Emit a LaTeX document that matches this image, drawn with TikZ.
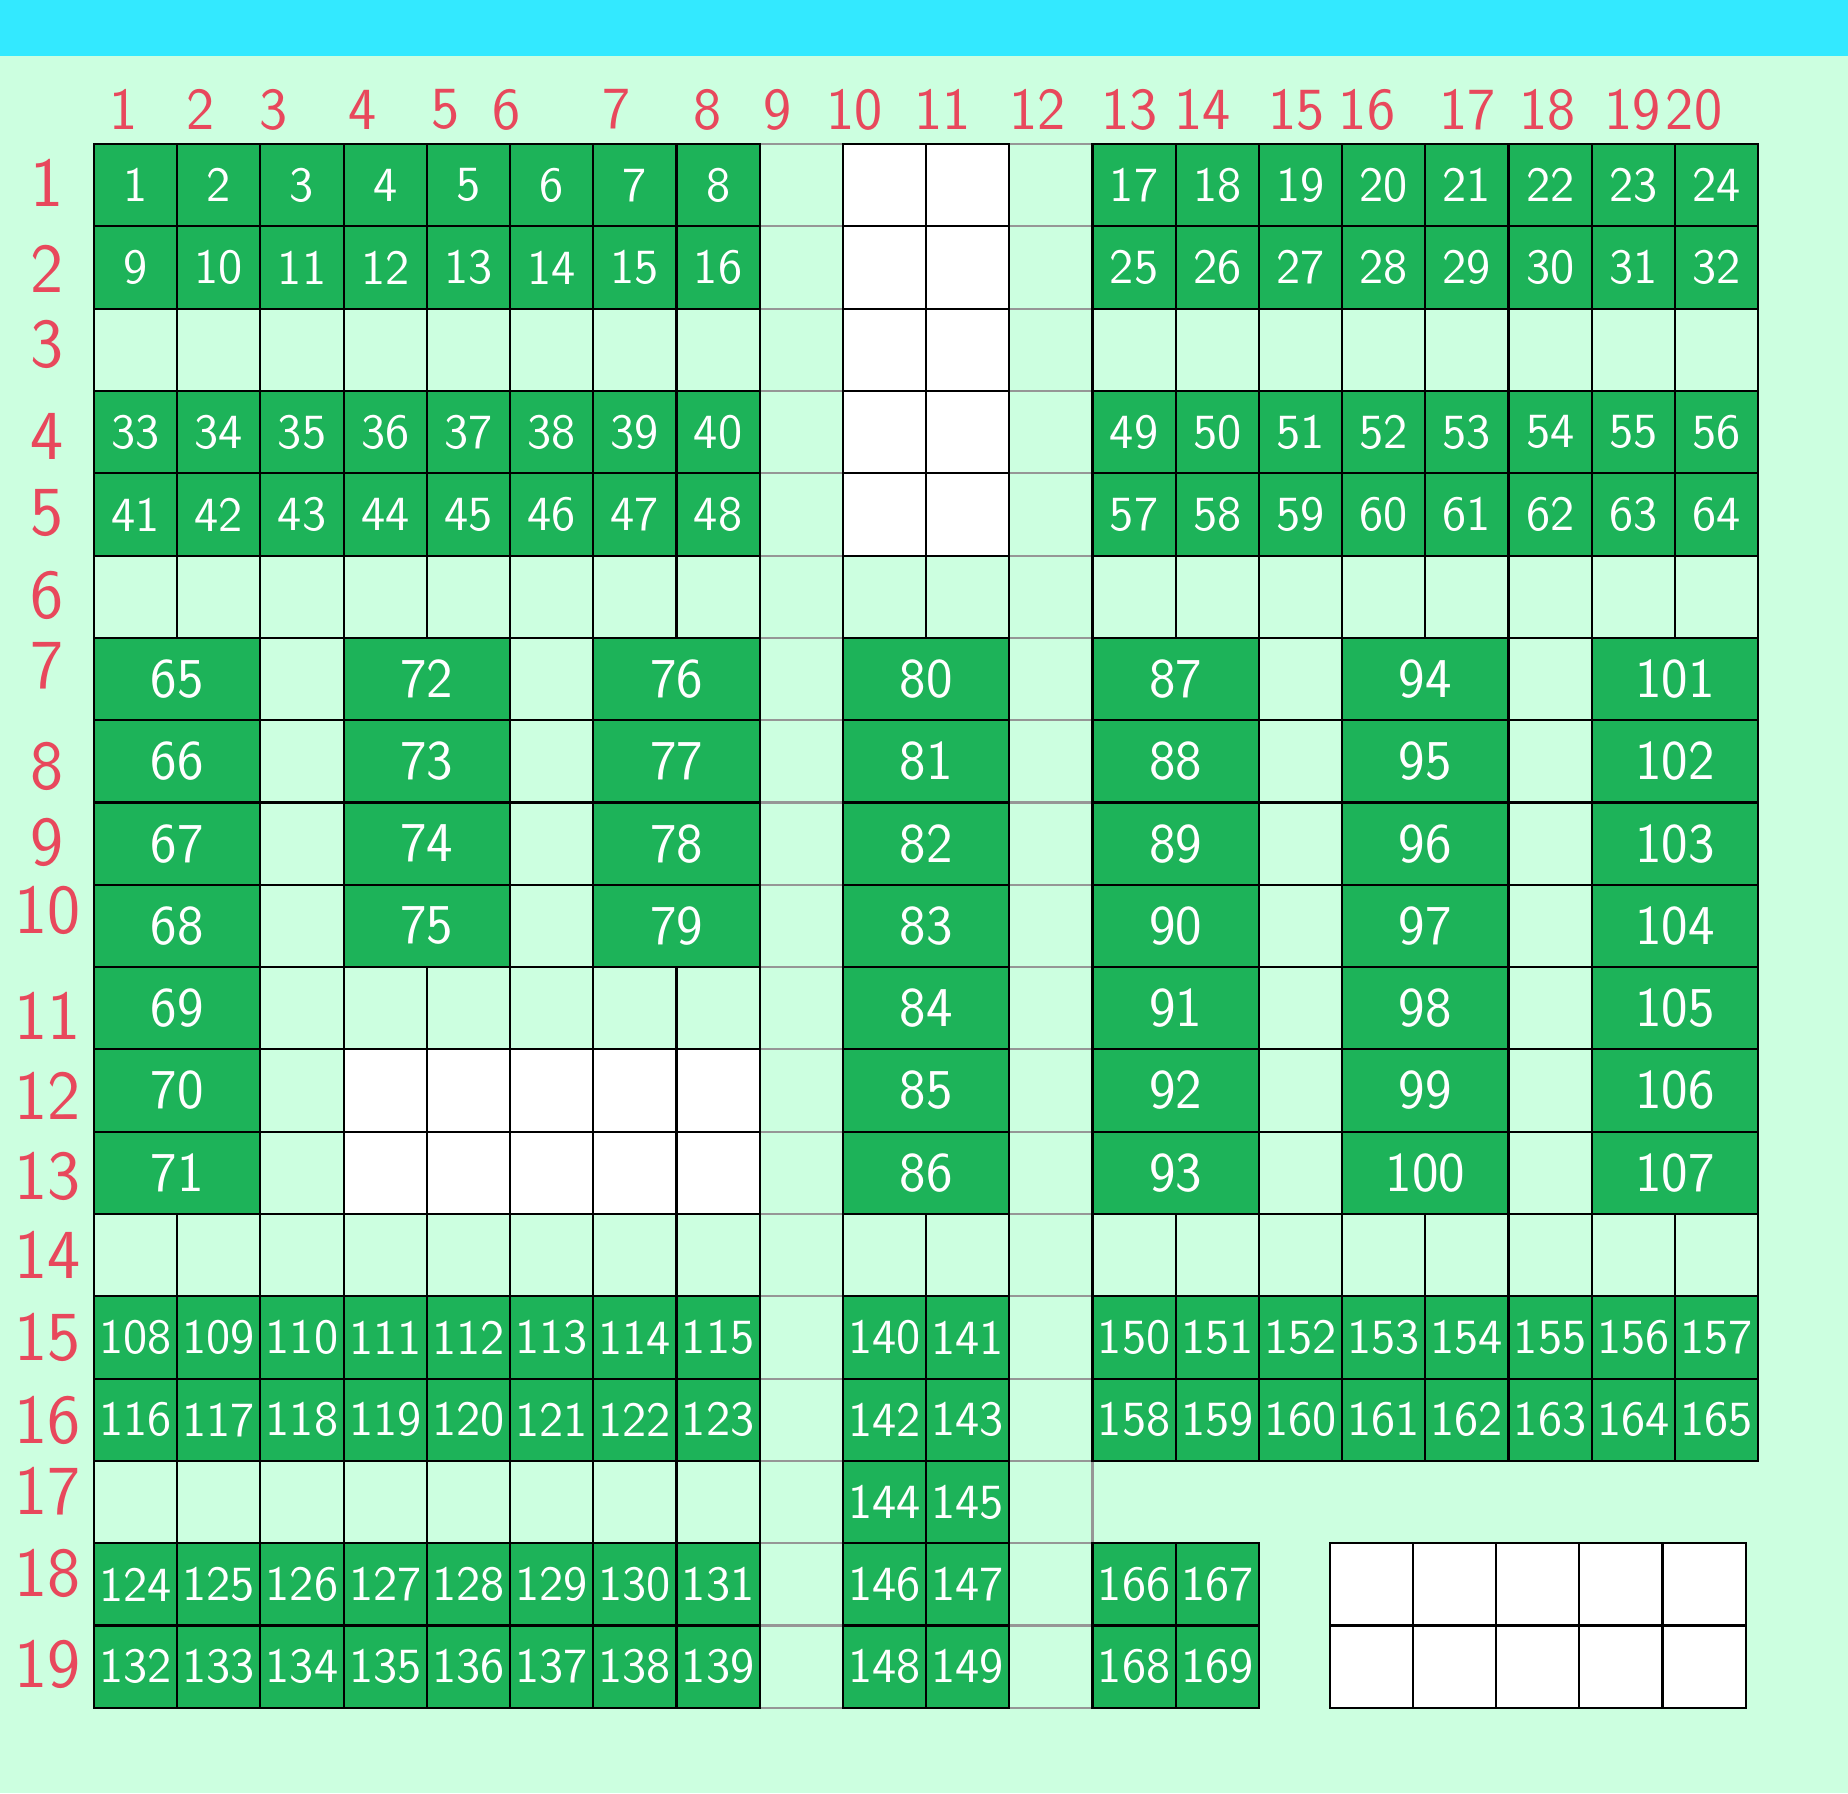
\documentclass[tikz,border=0pt]{standalone}
\usepackage{xcolor}
\usepackage{tikz}
\usetikzlibrary{positioning}

\definecolor{seatgreen}{RGB}{29,179,89}
\definecolor{mint}{RGB}{204,255,224}
\definecolor{topbar}{RGB}{51,233,255}
\definecolor{labred}{RGB}{232,72,92}
\definecolor{aislegray}{RGB}{150,150,150}

\tikzset{
  cell/.style={draw=black, line width=0.6pt, minimum width=0.832cm, minimum height=0.823cm, inner sep=0pt},
  seat/.style={cell, fill=seatgreen, text=white, font=\sffamily\fontsize{14}{14}\selectfont},
  wideseat/.style={seat, minimum width=1.664cm, font=\sffamily\fontsize{16}{16}\selectfont},
  gap/.style={cell, fill=mint},
  blank/.style={cell, fill=white},
  aisle/.style={cell, draw=aislegray, fill=mint},
  collab/.style={text=labred, font=\sffamily\fontsize{17}{17}\selectfont},
  rowlab/.style={text=labred, font=\sffamily\fontsize{20}{20}\selectfont}
}

\begin{document}
\begin{tikzpicture}[x=0.832cm,y=-0.823cm]
\useasboundingbox (-1.13,-1.75) rectangle (21.08,20.04);
\fill[mint] (-1.13,-1.75) rectangle (21.08,20.04);
\fill[topbar] (-1.13,-1.75) rectangle (21.08,-1.07);

% aisles
\foreach \c in {9,12}
  \foreach \r in {1,...,19}
    {\node[aisle] (a\c-\r) at (\c-0.5,\r-0.5) {};}

% empty places
\foreach \r in {3,6,14}
  \foreach \c in {1,2,3,4,5,6,7,8,13,14,15,16,17,18,19,20}
    {\node[gap] (e\c-\r) at (\c-0.5,\r-0.5) {};}
\foreach \r in {6,14}
  \foreach \c in {10,11}
    {\node[gap] (e\c-\r) at (\c-0.5,\r-0.5) {};}
\foreach \c in {1,...,8}
  {\node[gap] (e\c-17) at (\c-0.5,16.5) {};}
\foreach \c/\last in {3/13,6/10,15/13,18/13}
  \foreach \r in {7,...,\last}
    {\node[gap] (e\c-\r) at (\c-0.5,\r-0.5) {};}
\foreach \c in {4,...,8}
  {\node[gap] (e\c-11) at (\c-0.5,10.5) {};}

% white places
\foreach \c in {10,11}
  \foreach \r in {1,...,5}
    {\node[blank] (w\c-\r) at (\c-0.5,\r-0.5) {};}
\foreach \c in {4,...,8}
  \foreach \r in {12,13}
    {\node[blank] (w\c-\r) at (\c-0.5,\r-0.5) {};}
\foreach \i in {1,...,5}
  \foreach \r in {18,19}
    {\node[blank] (box\i-\r) at (14.85+\i-0.5,\r-0.5) {};}

% single seats
\foreach \r/\n in {1/0,2/8,4/32,5/40,15/107,16/115,18/123,19/131}
  \foreach \c in {1,...,8}
    {\pgfmathtruncatemacro\k{\n+\c}
     \node[seat] (s\k) at (\c-0.5,\r-0.5) {\k};}
\foreach \r/\n in {1/16,2/24,4/48,5/56,15/149,16/157}
  \foreach \c in {13,...,20}
    {\pgfmathtruncatemacro\k{\n+\c-12}
     \node[seat] (s\k) at (\c-0.5,\r-0.5) {\k};}
\foreach \r/\n in {18/165,19/167}
  \foreach \c in {13,14}
    {\pgfmathtruncatemacro\k{\n+\c-12}
     \node[seat] (s\k) at (\c-0.5,\r-0.5) {\k};}
\foreach \r in {15,...,19}
  \foreach \c in {10,11}
    {\pgfmathtruncatemacro\k{140+2*(\r-15)+\c-10}
     \node[seat] (s\k) at (\c-0.5,\r-0.5) {\k};}

% double seats
\foreach \c/\n/\last in {1/65/13,4/72/10,7/76/10,10/80/13,13/87/13,16/94/13,19/101/13}
  \foreach \r in {7,...,\last}
    {\pgfmathtruncatemacro\k{\n+\r-7}
     \node[wideseat] (s\k) at (\c,\r-0.5) {\k};}

% column numbers
\foreach \c/\x in {1/0.36,2/1.28,3/2.16,4/3.23,5/4.22,6/4.96,7/6.28,8/7.37,9/8.22,10/9.14,
                   11/10.20,12/11.34,13/12.44,14/13.32,15/14.45,16/15.30,17/16.51,18/17.47,19/18.49,20/19.23}
  {\node[collab] (col\c) at (\x,-0.42) {\c};}

% row numbers
\foreach \r/\y in {1/0.47,2/1.52,3/2.43,4/3.55,5/4.48,6/5.48,7/6.34,8/7.56,9/8.49,10/9.31,
                   11/10.59,12/11.57,13/12.54,14/13.50,15/14.50,16/15.51,17/16.37,18/17.37,19/18.47}
  {\node[rowlab] (row\r) at (-0.56,\y) {\r};}
\end{tikzpicture}
\end{document}
